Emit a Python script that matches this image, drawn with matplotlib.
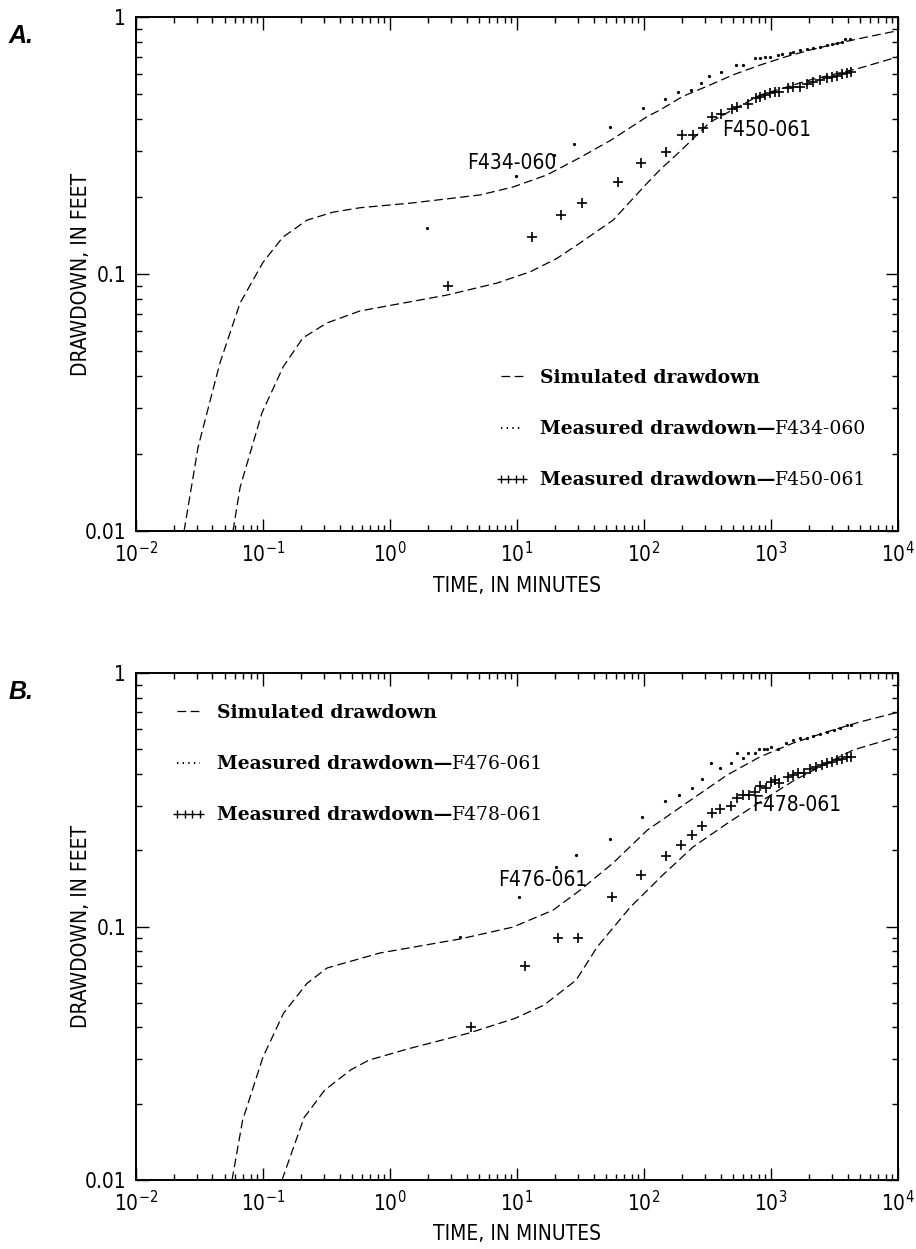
import matplotlib
matplotlib.use('Agg')
import matplotlib.pyplot as plt
import matplotlib.ticker as mticker
from matplotlib.lines import Line2D

plt.rcParams['font.family'] = ['DejaVu Sans']
plt.rcParams['font.stretch'] = 'condensed'
plt.rcParams['mathtext.fontset'] = 'custom'
plt.rcParams['mathtext.rm'] = 'DejaVu Sans:stretch=condensed'
plt.rcParams['mathtext.it'] = 'DejaVu Sans:italic:stretch=condensed'
plt.rcParams['mathtext.bf'] = 'DejaVu Sans:bold:stretch=condensed'

# ---- Panel A data ----
simA_upper_t = [0.0239, 0.0308, 0.0458, 0.0659, 0.1, 0.143, 0.222, 0.356, 0.58, 1.5, 2.8, 5.1,
                9.3, 17.2, 31, 55, 106, 134, 200, 331, 500, 819, 1300, 2028, 3000, 5000, 10000]
simA_upper_v = [0.01, 0.0212, 0.0451, 0.077, 0.111, 0.139, 0.162, 0.174, 0.181, 0.189, 0.196, 0.203,
                0.218, 0.243, 0.283, 0.332, 0.41, 0.435, 0.49, 0.544, 0.595, 0.65, 0.70, 0.744, 0.78, 0.825, 0.885]
simA_lower_t = [0.058, 0.066, 0.098, 0.144, 0.206, 0.319, 0.58, 2.81, 6.96, 12.7, 20.6, 31.3, 57, 73,
                106, 134, 192, 331, 819, 2028, 5000, 10000]
simA_lower_v = [0.01, 0.0148, 0.0288, 0.0435, 0.0564, 0.0645, 0.0718, 0.0828, 0.0922, 0.102, 0.115, 0.132,
                0.162, 0.185, 0.226, 0.255, 0.30, 0.39, 0.497, 0.569, 0.633, 0.70]

measA_434_t = [1.95, 9.8, 19.5, 28.1, 54, 98, 146, 185, 234, 281, 325, 404, 530, 602, 748, 819, 897, 982,
               1143, 1214, 1412, 1500, 1692, 1910, 2155, 2432, 2744, 3006, 3289, 3603, 3830, 4200]
measA_434_v = [0.151, 0.241, 0.290, 0.321, 0.373, 0.443, 0.48, 0.51, 0.52, 0.553, 0.589, 0.611, 0.65, 0.65,
               0.69, 0.695, 0.697, 0.701, 0.710, 0.716, 0.726, 0.733, 0.744, 0.749, 0.760, 0.766, 0.778,
               0.785, 0.794, 0.801, 0.819, 0.82]
measA_450_t = [2.87, 13.1, 22.2, 32.5, 62, 95, 149, 199, 243, 292, 343, 404, 493, 540, 659, 762, 819, 897,
               982, 1070, 1160, 1361, 1500, 1692, 1910, 2155, 2432, 2744, 3006, 3289, 3603, 3950, 4250]
measA_450_v = [0.0898, 0.139, 0.170, 0.189, 0.228, 0.270, 0.299, 0.347, 0.347, 0.370, 0.408, 0.42, 0.438,
               0.446, 0.458, 0.484, 0.489, 0.497, 0.506, 0.51, 0.51, 0.528, 0.533, 0.535, 0.549, 0.560,
               0.569, 0.577, 0.586, 0.59, 0.600, 0.607, 0.612]

# ---- Panel B data ----
simB_upper_t = [0.057, 0.069, 0.1, 0.145, 0.222, 0.319, 0.83, 3.56, 9.3, 19.2, 31.3, 57, 106, 243, 451,
                819, 1490, 2760, 5000, 10000]
simB_upper_v = [0.01, 0.0172, 0.0306, 0.0455, 0.0597, 0.0686, 0.0786, 0.0893, 0.0995, 0.116, 0.139, 0.178,
                0.24, 0.32, 0.396, 0.467, 0.529, 0.586, 0.641, 0.70]
simB_lower_t = [0.141, 0.21, 0.305, 0.49, 0.68, 1.41, 4.11, 9.6, 16.3, 29.2, 42.7, 77.6, 141, 243, 451,
                819, 1490, 2760, 4430, 10000]
simB_lower_v = [0.01, 0.0176, 0.0226, 0.0272, 0.0297, 0.033, 0.0379, 0.0434, 0.049, 0.0615, 0.083, 0.119,
                0.16, 0.206, 0.255, 0.31, 0.375, 0.441, 0.497, 0.561]

measB_476_t = [3.56, 10.4, 20.3, 29.2, 54, 96, 146, 189, 239, 286, 337, 397, 484, 540, 596, 659, 748, 809,
               875, 925, 995, 1143, 1306, 1500, 1692, 1910, 2155, 2432, 2744, 3100, 3500, 3950, 4250]
measB_476_v = [0.091, 0.131, 0.172, 0.191, 0.221, 0.27, 0.313, 0.33, 0.352, 0.382, 0.441, 0.422, 0.441,
               0.483, 0.462, 0.483, 0.483, 0.501, 0.501, 0.503, 0.511, 0.50, 0.529, 0.544, 0.552, 0.556,
               0.564, 0.574, 0.587, 0.596, 0.605, 0.623, 0.623]
measB_478_t = [4.34, 11.6, 21, 30.2, 56, 95, 149, 195, 239, 286, 343, 397, 484, 540, 602, 675, 748, 819,
               914, 995, 1070, 1160, 1361, 1500, 1640, 1800, 2028, 2250, 2500, 2744, 3006, 3289, 3600,
               3950, 4250]
measB_478_v = [0.040, 0.070, 0.090, 0.090, 0.131, 0.160, 0.190, 0.21, 0.23, 0.249, 0.28, 0.291, 0.299,
               0.321, 0.330, 0.330, 0.340, 0.358, 0.353, 0.372, 0.378, 0.368, 0.389, 0.396, 0.404, 0.404,
               0.417, 0.425, 0.434, 0.440, 0.447, 0.454, 0.457, 0.465, 0.468]

wells_A = ['F434-060', 'F450-061']
wells_B = ['F476-061', 'F478-061']
# label positions (time, drawdown) for the well names
labels_A = [(9.0, 0.27), (931, 0.363)]
labels_B = [(16, 0.153), (1604, 0.301)]

x_major = [1e-2, 1e-1, 1e0, 1e1, 1e2, 1e3, 1e4]
y_major = [0.01, 0.1, 1]

DASH = (0, (7, 3.5))
SERIF = 'DejaVu Serif'


def minor_list(majors):
    out = []
    for m in majors[:-1]:
        out += [m * k for k in range(2, 10)]
    return out


def draw_panel(ax, sim, meas1, meas2, wells, label_pos, legend_anchor):
    for t, v in sim:
        ax.plot(t, v, color='black', lw=0.9, linestyle=DASH)
    ax.plot(meas1[0], meas1[1], linestyle='none', marker='.', markersize=2.6, color='black')
    ax.plot(meas2[0], meas2[1], linestyle='none', marker='+', markersize=7, mew=1.2, color='black')

    for name, (t, v) in zip(wells, label_pos):
        ax.text(t, v, name, ha='center', va='center', fontsize=15)

    ax.set_xscale('log')
    ax.set_yscale('log')
    ax.set_xlim(1e-2, 1e4)
    ax.set_ylim(0.01, 1)
    ax.xaxis.set_major_locator(mticker.FixedLocator(x_major))
    ax.xaxis.set_minor_locator(mticker.FixedLocator(minor_list(x_major)))
    ax.xaxis.set_major_formatter(mticker.LogFormatterSciNotation())
    ax.xaxis.set_minor_formatter(mticker.NullFormatter())
    ax.yaxis.set_major_locator(mticker.FixedLocator(y_major))
    ax.yaxis.set_minor_locator(mticker.FixedLocator(minor_list(y_major)))
    ax.yaxis.set_major_formatter(mticker.FuncFormatter(lambda v, _: '%g' % v))
    ax.yaxis.set_minor_formatter(mticker.NullFormatter())
    ax.tick_params(which='both', direction='in', top=True, right=True, labelsize=15, width=1.0)
    ax.tick_params(which='major', length=9, pad=7)
    ax.tick_params(which='minor', length=4.5)
    for s in ax.spines.values():
        s.set_linewidth(1.4)

    ax.set_xlabel('TIME, IN MINUTES', fontsize=15)
    ax.set_ylabel('DRAWDOWN, IN FEET', fontsize=15)
    ax.xaxis.set_label_coords(0.5, -0.087)
    ax.xaxis.label.set_verticalalignment('top')
    ax.yaxis.set_label_coords(-0.059, 0.5)

    handles = [Line2D([], [], color='black', lw=0.9, linestyle=DASH),
               Line2D([], [], color='black', lw=1.4, linestyle=(0, (0.7, 2.2))),
               Line2D([], [], color='black', linestyle='none', marker='+', markersize=5.5, mew=1.0)]
    labels = ['Simulated drawdown', 'Measured drawdown\u2014', 'Measured drawdown\u2014']
    leg = ax.legend(handles, labels, loc='upper left', bbox_to_anchor=legend_anchor,
                    frameon=False, borderpad=0, borderaxespad=0, handlelength=1.8,
                    handletextpad=0.6, labelspacing=1.77, numpoints=4,
                    prop={'family': SERIF, 'weight': 'bold', 'size': 13.5, 'stretch': 'normal'})
    texts = leg.get_texts()
    # legend is drawn at zorder 5, so put the suffix after it
    for txt, name in zip(texts[1:], wells):
        ax.annotate(name, xy=(1, 0), xycoords=txt, ha='left', va='bottom', zorder=6,
                    family=SERIF, fontsize=13.5, fontweight='normal', fontstretch='normal')


fig = plt.figure(figsize=(9.16, 12.49), dpi=100)
axA = fig.add_axes([0.1485, 0.5749, 0.832, 0.4115])
axB = fig.add_axes([0.1485, 0.0552, 0.832, 0.406])

draw_panel(axA,
           [(simA_upper_t, simA_upper_v), (simA_lower_t, simA_lower_v)],
           (measA_434_t, measA_434_v), (measA_450_t, measA_450_v),
           wells_A, labels_A, (0.471, 0.315))
draw_panel(axB,
           [(simB_upper_t, simB_upper_v), (simB_lower_t, simB_lower_v)],
           (measB_476_t, measB_476_v), (measB_478_t, measB_478_v),
           wells_B, labels_B, (0.047, 0.939))

fig.text(9 / 916, 1 - 43 / 1249, 'A.', family='Liberation Sans', fontweight='bold',
         fontstyle='italic', fontstretch='normal', fontsize=18, ha='left', va='baseline')
fig.text(9 / 916, 1 - 699 / 1249, 'B.', family='Liberation Sans', fontweight='bold',
         fontstyle='italic', fontstretch='normal', fontsize=18, ha='left', va='baseline')

fig.savefig('out.png', dpi=100)
